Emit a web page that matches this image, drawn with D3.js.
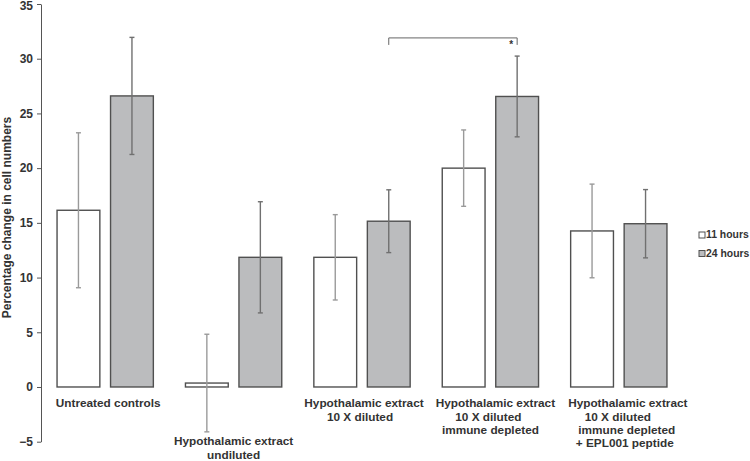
<!DOCTYPE html>
<html>
<head>
<meta charset="utf-8">
<script src="https://cdn.jsdelivr.net/npm/d3@7"></script>
<style>
  html, body { margin: 0; padding: 0; background: #fff; }
  svg { display: block; font-family: "Liberation Sans", Arial, sans-serif; }
</style>
</head>
<body>
<svg id="chart" width="750" height="461"></svg>
<script>
// ---- data ----
const categories = [
  "Untreated controls",
  "Hypothalamic extract undiluted",
  "Hypothalamic extract 10 X diluted",
  "Hypothalamic extract 10 X diluted immune depleted",
  "Hypothalamic extract 10 X diluted immune depleted + EPL001 peptide"
];
const categoryLabelLines = [
  ["Untreated controls"],
  ["Hypothalamic extract", "undiluted"],
  ["Hypothalamic extract", "10 X diluted"],
  ["Hypothalamic extract", "10 X diluted", "immune depleted"],
  ["Hypothalamic extract", "10 X diluted", "immune depleted", "+ EPL001 peptide"]
];
const seriesNames = ["11 hours", "24 hours"];
const values11h = [16.15, 0.36, 11.85, 20.0, 14.26];
const values24h = [26.6, 11.85, 15.15, 26.55, 14.92];
const errors11h = [7.08, 4.46, 3.9, 3.49, 4.28];
const errors24h = [5.35, 5.08, 2.87, 3.69, 3.12];
const yTicks = [-5, 0, 5, 10, 15, 20, 25, 30, 35];
const yTitle = "Percentage change in cell numbers";
const sigFrom = 2, sigTo = 3, sigSeries = "24 hours", sigLevel = 31.9, sigLabel = "*";

// ---- layout ----
const svg = d3.select("#chart");
const axisX = 41;
const y = d3.scaleLinear().domain([-5, 35]).range([441.7, 4]);
const x0 = d3.scaleBand().domain(categories).range([axisX, 683])
  .paddingInner(0.25).paddingOuter(0.125);
const x1 = d3.scaleBand().domain(seriesNames).range([0, x0.bandwidth()])
  .paddingInner(0.2).paddingOuter(0);
const fills = { "11 hours": "#ffffff", "24 hours": "#bbbcbe" };
const errColor = { "11 hours": "#9a9a9a", "24 hours": "#707070" };
const textColor = "#333";

const rows = [];
categories.forEach((c, i) => {
  rows.push({ cat: c, s: "11 hours", v: values11h[i], e: errors11h[i] });
  rows.push({ cat: c, s: "24 hours", v: values24h[i], e: errors24h[i] });
});

// bars
svg.append("g").selectAll("rect").data(rows).join("rect")
  .attr("x", d => x0(d.cat) + x1(d.s))
  .attr("width", x1.bandwidth())
  .attr("y", d => y(Math.max(0, d.v)))
  .attr("height", d => Math.abs(y(d.v) - y(0)))
  .attr("fill", d => fills[d.s])
  .attr("stroke", "#505050")
  .attr("stroke-width", 1.4);

// error bars
const eg = svg.append("g").selectAll("g").data(rows).join("g")
  .attr("stroke", d => errColor[d.s]).attr("stroke-width", 1.4);
const cx = d => x0(d.cat) + x1(d.s) + x1.bandwidth() / 2;
eg.append("line").attr("x1", cx).attr("x2", cx)
  .attr("y1", d => y(d.v + d.e)).attr("y2", d => y(d.v - d.e));
eg.append("line").attr("x1", d => cx(d) - 2.5).attr("x2", d => cx(d) + 2.5)
  .attr("y1", d => y(d.v + d.e)).attr("y2", d => y(d.v + d.e));
eg.append("line").attr("x1", d => cx(d) - 2.5).attr("x2", d => cx(d) + 2.5)
  .attr("y1", d => y(d.v - d.e)).attr("y2", d => y(d.v - d.e));

// y axis
const yAxis = svg.append("g").attr("transform", `translate(${axisX},0)`)
  .call(d3.axisLeft(y).tickValues(yTicks).tickSize(4).tickPadding(4).tickSizeOuter(0));
yAxis.select(".domain").attr("stroke", "#555").attr("stroke-width", 1);
yAxis.selectAll(".tick line").attr("stroke", "#555");
yAxis.selectAll(".tick text").attr("fill", textColor)
  .attr("font-size", 12).attr("font-weight", "bold")
  .attr("dy", (d) => d === 35 ? "0.45em" : "0.32em");

// y title
svg.append("text")
  .attr("transform", `translate(10.5,217.5) rotate(-90)`)
  .attr("text-anchor", "middle")
  .attr("fill", textColor).attr("font-size", 12).attr("font-weight", "bold")
  .text(yTitle);

// category labels
const lineDx = [[3], [0, 0], [2, -2], [5, -2, 0], [9, -1, 8, 6]];
const labelTop = [407.3, 445.3, 407.3, 407.3, 407.3];
categoryLabelLines.forEach((lines, i) => {
  const cxg = x0(categories[i]) + x0.bandwidth() / 2;
  lines.forEach((ln, j) => {
    svg.append("text")
      .attr("x", cxg + lineDx[i][j])
      .attr("y", labelTop[i] + j * 13.2)
      .attr("text-anchor", "middle")
      .attr("fill", textColor).attr("font-size", 11.8).attr("font-weight", "bold")
      .text(ln);
  });
});

// legend
const lg = svg.append("g").attr("transform", "translate(698.5,231.5)");
seriesNames.forEach((s, i) => {
  const g = lg.append("g").attr("transform", `translate(0,${i * 18.5})`);
  g.append("rect").attr("x", 0.5).attr("y", 0.5).attr("width", 6).attr("height", 6)
    .attr("fill", fills[s]).attr("stroke", "#505050").attr("stroke-width", 1);
  g.append("text").attr("x", 7.5).attr("y", 6.8)
    .attr("fill", textColor).attr("font-size", 10.4).attr("font-weight", "bold")
    .text(s);
});

// significance bracket
const bx1 = x0(categories[sigFrom]) + x1(sigSeries) + x1.bandwidth() / 2;
const bx2 = x0(categories[sigTo]) + x1(sigSeries) + x1.bandwidth() / 2;
const by = y(sigLevel);
svg.append("path")
  .attr("d", `M${bx1},${by + 7}V${by}H${bx2}V${by + 7}`)
  .attr("fill", "none").attr("stroke", "#666").attr("stroke-width", 1);
svg.append("text").attr("x", bx2 - 6).attr("y", by + 10)
  .attr("text-anchor", "middle").attr("fill", textColor)
  .attr("font-size", 10).attr("font-weight", "bold").text(sigLabel);
</script>
</body>
</html>
